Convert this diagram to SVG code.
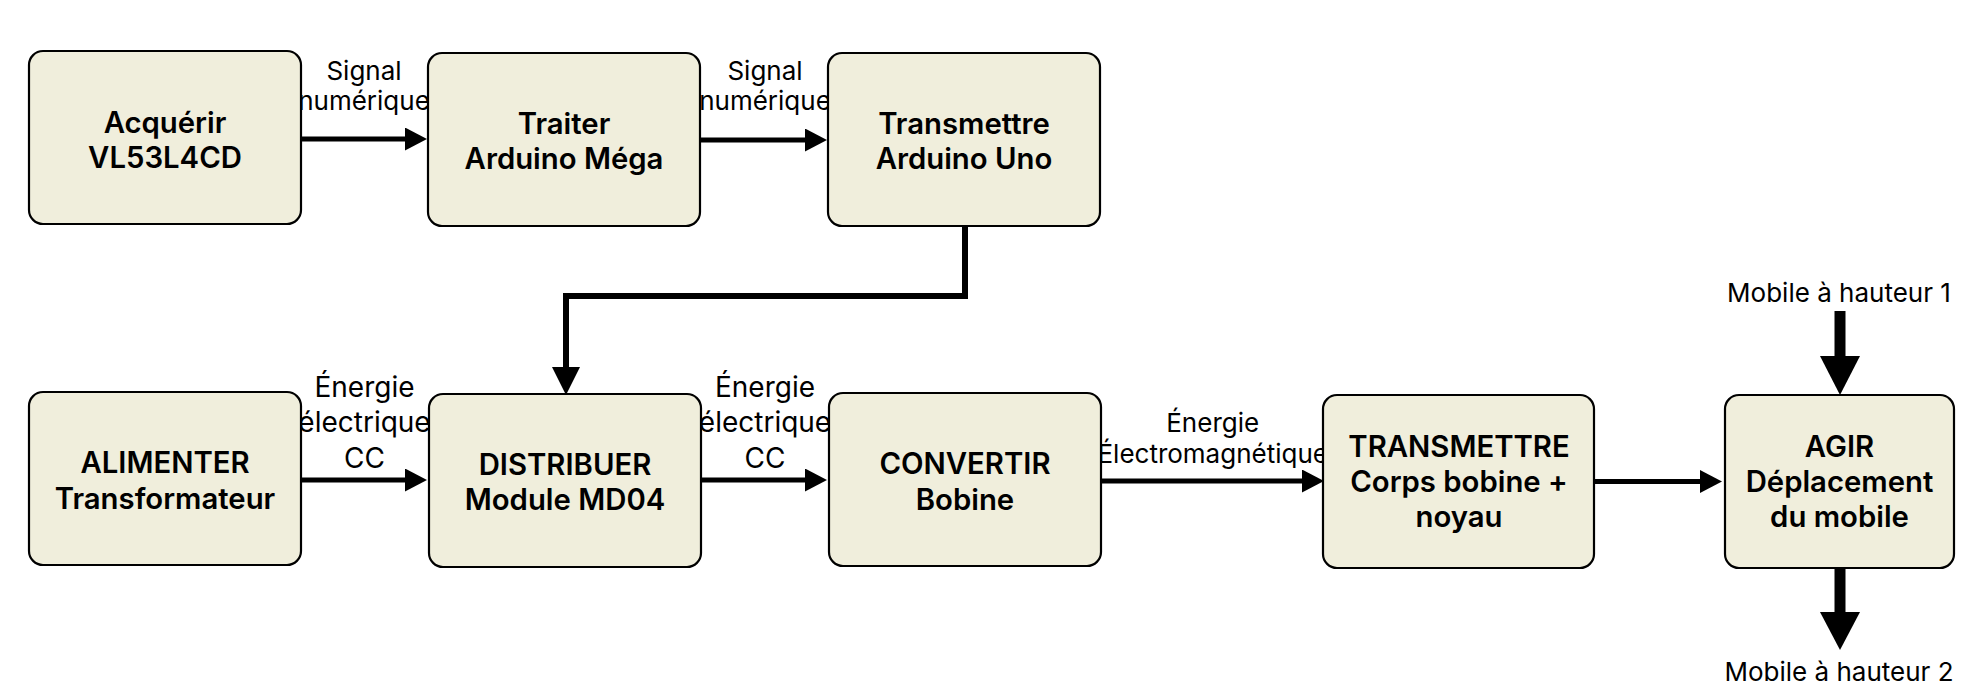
<svg xmlns="http://www.w3.org/2000/svg" width="1966" height="690" viewBox="0 0 1966 690">
<style>
.box{fill:#f0eedc;stroke:#000;stroke-width:2.2}
.bt{font-family:Inter,"Liberation Sans",Arial,sans-serif;font-weight:600;font-size:29.3px;text-anchor:middle;fill:#000}
.lb{font-family:Inter,"Liberation Sans",Arial,sans-serif;font-weight:400;text-anchor:middle;fill:#000}
.ln{fill:none;stroke:#000;stroke-width:5}
.ln6{fill:none;stroke:#000;stroke-width:6}
.thick{fill:none;stroke:#000;stroke-width:11}
</style>
<defs>
<marker id="ah" markerUnits="userSpaceOnUse" markerWidth="23" markerHeight="23" refX="1" refY="11.5" orient="auto" viewBox="0 0 23 23">
<path d="M0,0 L22,11.5 L0,23 z" fill="#000"/>
</marker>
<marker id="ahb" markerUnits="userSpaceOnUse" markerWidth="29" markerHeight="28" refX="1" refY="14" orient="auto" viewBox="0 0 29 28">
<path d="M0,0 L28,14 L0,28 z" fill="#000"/>
</marker>
</defs>

<g id="connectors">
<path class="ln" d="M301,139 H406" marker-end="url(#ah)"/>
<path class="ln" d="M700,140 H806" marker-end="url(#ah)"/>
<path class="ln6" d="M965,226 V296 H566 V368" marker-end="url(#ahb)"/>
<path class="ln" d="M301,480 H406" marker-end="url(#ah)"/>
<path class="ln" d="M700,480 H806" marker-end="url(#ah)"/>
<path class="ln" d="M1101,481 H1303" marker-end="url(#ah)"/>
<path class="ln" d="M1594,481.5 H1701" marker-end="url(#ah)"/>
<path class="thick" d="M1840,311 V357"/>
<polygon points="1820,356 1860,356 1840,395" fill="#000"/>
<path class="thick" d="M1840,568 V613"/>
<polygon points="1820,612 1860,612 1840,650" fill="#000"/>
<text class="lb" font-size="26" x="364" y="80">Signal</text>
<text class="lb" font-size="26" x="364" y="110">numérique</text>
<text class="lb" font-size="26" x="765" y="80">Signal</text>
<text class="lb" font-size="26" x="765" y="110">numérique</text>
<text class="lb" font-size="28" x="364.5" y="397">Énergie</text>
<text class="lb" font-size="28" x="364.5" y="432">électrique</text>
<text class="lb" font-size="28" x="364.5" y="468">CC</text>
<text class="lb" font-size="28" x="765" y="397">Énergie</text>
<text class="lb" font-size="28" x="765" y="432">électrique</text>
<text class="lb" font-size="28" x="765" y="468">CC</text>
<text class="lb" font-size="26" x="1212.7" y="432">Énergie</text>
<text class="lb" font-size="26" x="1212.7" y="463">Électromagnétique</text>
<text class="lb" font-size="26" x="1839" y="302">Mobile à hauteur 1</text>
<text class="lb" font-size="26" x="1839" y="681">Mobile à hauteur 2</text>
</g>

<g id="acquerir">
<rect class="box" x="29" y="51" width="272" height="173" rx="14"/>
<text class="bt" x="165" y="133">Acquérir</text>
<text class="bt" x="165" y="168">VL53L4CD</text>
</g>
<g id="traiter">
<rect class="box" x="428" y="53" width="272" height="173" rx="14"/>
<text class="bt" x="564" y="134">Traiter</text>
<text class="bt" x="564" y="169">Arduino Méga</text>
</g>
<g id="transmettre-uno">
<rect class="box" x="828" y="53" width="272" height="173" rx="14"/>
<text class="bt" x="964" y="133.5">Transmettre</text>
<text class="bt" x="964" y="169">Arduino Uno</text>
</g>
<g id="alimenter">
<rect class="box" x="29" y="392" width="272" height="173" rx="14"/>
<text class="bt" x="165" y="473">ALIMENTER</text>
<text class="bt" x="165" y="508.5">Transformateur</text>
</g>
<g id="distribuer">
<rect class="box" x="429" y="394" width="272" height="173" rx="14"/>
<text class="bt" x="565" y="474.5">DISTRIBUER</text>
<text class="bt" x="565" y="510">Module MD04</text>
</g>
<g id="convertir">
<rect class="box" x="829" y="393" width="272" height="173" rx="14"/>
<text class="bt" x="965" y="473.5">CONVERTIR</text>
<text class="bt" x="965" y="509.5">Bobine</text>
</g>
<g id="transmettre-bobine">
<rect class="box" x="1323" y="395" width="271" height="173" rx="14"/>
<text class="bt" x="1459" y="457">TRANSMETTRE</text>
<text class="bt" x="1459" y="492">Corps bobine +</text>
<text class="bt" x="1459" y="527">noyau</text>
</g>
<g id="agir">
<rect class="box" x="1725" y="395" width="229" height="173" rx="14"/>
<text class="bt" x="1839.5" y="457">AGIR</text>
<text class="bt" x="1839.5" y="492">Déplacement</text>
<text class="bt" x="1839.5" y="527">du mobile</text>
</g>
</svg>
